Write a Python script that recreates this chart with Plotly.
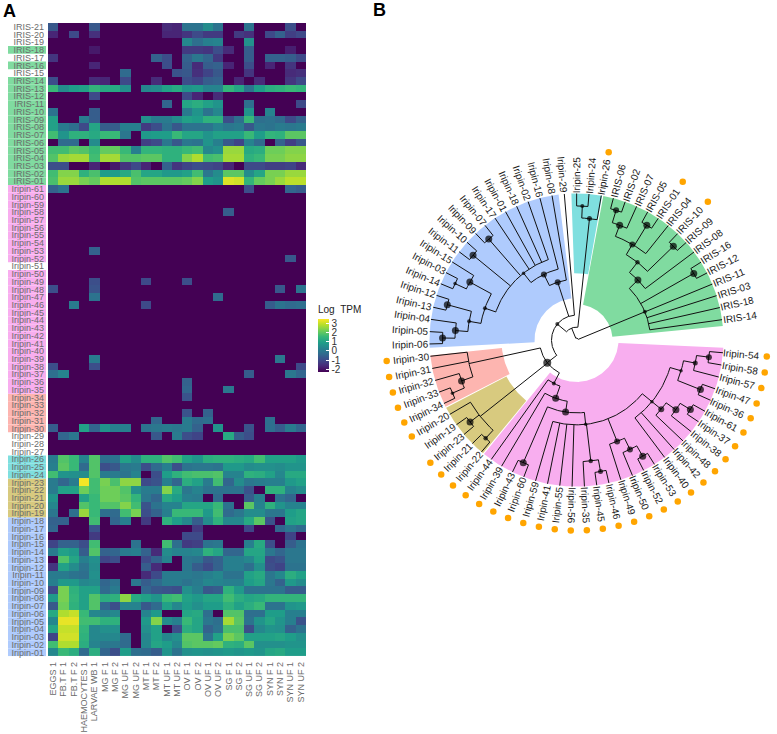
import numpy as np
import plotly.graph_objects as go

D = -2.3  # darkest cell

SAMPLES = ["EGGS 1","FB.T F 1","FB.T F 2","HAEMOCYTES 1","LARVAE WB 1","MG F 1","MG F 2","MG UF 1","MG UF 2",
           "MT F 1","MT F 2","MT UF 1","MT UF 2","OV F 1","OV F 2","OV UF 1","OV UF 2","SG F 1","SG F 2",
           "SG UF 1","SG UF 2","SYN F 1","SYN F 2","SYN UF 1","SYN UF 2"]

IRIS_21 = [-.7,D,D,D,-.7,D,D,D,D,D,D,-1.6,-1.7,-.1,-.1,.5,-.1,D,D,-.1,D,D,D,-.9,D]
IRIS_20 = [-1.7,D,-1.0,D,-1.5,D,D,D,D,D,D,-1.7,-1.7,-1.4,-1.0,-1.3,-1.3,D,-1.3,-1.5,D,-1.0,-.5,-1.2,-1.0]
IRIS_19 = [D,D,D,D,D,D,D,D,D,D,D,D,D,.4,-.2,.2,.3,D,D,.6,D,D,D,D,D]
IRIS_18 = [D,D,D,D,-1.9,D,D,D,D,D,D,D,D,-1.3,-1.3,-1.4,-.9,-1.6,D,-.6,D,D,D,-1.8,D]
IRIS_17 = [-1.4,D,D,D,D,D,D,D,D,D,-.5,-.9,D,-.5,0,-.4,-1.3,D,D,-.6,D,-.5,-.5,-.6,-1.0]
IRIS_16 = [D,D,D,D,-1.7,D,D,D,D,D,D,-.9,D,-.6,-1.6,-.6,-.5,-1.7,D,-.9,D,-1.7,D,-1.4,D]
IRIS_15 = [D,D,D,D,D,D,D,-.3,D,D,D,D,-.8,-.7,-1.5,-1.1,-.7,D,D,-1.4,D,D,D,-1.6,-1.5]
IRIS_14 = [-.9,D,D,D,-1.6,-1.7,D,-1.0,D,D,-1.6,D,D,-.9,-1.1,-.6,-.5,D,-1.7,D,-1.6,D,D,-1.4,-1.0]
IRIS_13 = [1.6,.5,.9,1.0,1.5,1.2,1.2,.6,D,.4,.5,1.0,1.2,.7,.8,.3,.3,1.5,1.1,-.1,.9,1.3,1.4,1.6,1.5]
IRIS_12 = [D,D,D,D,-1.0,D,D,D,D,D,D,D,D,-1.0,-1.7,D,-1.6,D,D,D,D,D,D,D,D]
IRIS_11 = [D,D,D,D,D,D,D,D,D,D,D,-.4,D,1.1,1.3,1.0,.7,D,D,-.2,D,D,D,D,-1.0]
IRIS_10 = [-.1,D,D,D,-.6,D,D,D,D,D,D,D,D,.1,.7,-.1,.4,D,D,.7,D,.3,D,D,D]
IRIS_09 = [1.0,D,D,.1,-.6,D,D,D,D,.6,.1,.1,.5,1.0,.9,1.4,1.4,-.9,-.2,1.6,-.2,-.1,-.3,-1.0,-.5]
IRIS_08 = [1.0,.1,-.2,-1.0,1.1,-.6,-.6,.2,.2,-1.3,-.9,-.1,-.7,-.1,-.1,-.1,.3,0,.1,-.7,0,-.1,.1,0,.1]
IRIS_07 = [1.7,.7,1.4,1.4,1.2,1.6,1.6,0,D,.8,.9,.9,1.6,1.1,1.1,.7,1.0,1.0,1.0,1.6,.9,1.5,1.4,2.0,2.0]
IRIS_06 = [D,-.3,-.3,D,.5,D,D,D,D,-1.2,-1.0,0,-.7,0,-.1,.7,.2,-.7,-1.1,.3,-.3,D,-.5,-1.2,-.7]
IRIS_05 = [1.7,1.7,2.0,1.9,1.6,2.1,2.1,1.6,.2,1.5,1.5,1.4,1.4,1.6,1.7,.4,.6,2.6,2.6,1.2,1.3,2.2,2.2,2.4,2.4]
IRIS_04 = [1.9,2.6,2.7,2.7,1.7,2.7,2.7,1.9,1.9,2.0,2.0,1.4,1.4,2.4,2.8,1.7,1.8,2.7,2.7,1.4,1.6,2.3,2.3,2.5,2.5]
IRIS_03 = [-.9,-.9,D,D,-1.7,D,-1.9,-1.4,-1.0,-1.7,D,-.5,-1.4,-1.1,-.9,-1.0,-1.1,-1.7,D,-1.0,-1.0,-1.2,-1.2,-1.1,-1.6]
IRIS_02 = [1.7,2.4,2.4,1.4,1.8,.9,.9,1.2,1.8,1.1,1.1,.8,.8,1.0,1.7,0,.5,2.0,2.0,.5,1.1,2.3,2.3,2.6,2.6]
IRIS_01 = [1.8,2.6,2.6,2.3,2.1,2.8,2.8,2.8,1.9,2.0,2.0,2.0,2.0,2.1,2.4,.9,.7,3.2,3.1,1.5,2.1,2.3,2.6,2.9,2.9]
IRIPIN_61 = [-.5,-.1,D,D,D,D,D,D,D,D,D,D,D,D,D,D,D,D,D,-.9,D,D,D,-.4,-.6]
IRIPIN_60 = [D,D,D,D,D,D,D,D,D,D,D,D,D,D,D,D,D,D,D,D,D,D,D,D,D]
IRIPIN_59 = [D,D,D,D,D,D,D,D,D,D,D,D,D,D,D,D,D,D,D,D,D,D,D,D,D]
IRIPIN_58 = [D,D,D,D,D,D,D,D,D,D,D,D,D,D,D,D,D,-.6,D,D,D,D,D,D,D]
IRIPIN_57 = [D,D,D,D,D,D,D,D,D,D,D,D,D,D,D,D,D,D,D,D,D,D,D,D,D]
IRIPIN_56 = [D,D,D,D,D,D,D,D,D,D,D,D,D,D,D,D,D,D,D,D,D,D,D,D,D]
IRIPIN_55 = [D,D,D,D,D,D,D,D,D,D,D,D,D,D,D,D,D,D,D,D,D,D,D,D,D]
IRIPIN_54 = [D,D,D,D,D,D,D,D,D,D,D,D,D,D,D,D,D,D,D,D,D,D,D,D,D]
IRIPIN_53 = [D,D,D,D,-.5,D,D,D,D,D,D,D,D,D,D,D,D,D,D,D,D,D,D,D,D]
IRIPIN_52 = [D,D,D,D,D,D,D,D,D,D,D,D,D,D,D,D,D,D,D,D,D,D,D,-.7,D]
IRIPIN_51 = [D,D,D,D,D,D,D,D,D,D,D,D,D,D,D,D,D,D,D,D,D,D,D,D,D]
IRIPIN_50 = [D,D,D,D,D,D,D,D,D,D,D,D,D,D,D,D,D,D,D,D,D,D,D,D,D]
IRIPIN_49 = [D,D,D,D,-.9,D,D,D,D,-1.0,D,D,D,-.9,D,D,D,D,D,D,D,D,D,D,D]
IRIPIN_48 = [-.9,D,D,D,-.8,D,D,D,D,D,D,D,D,D,D,D,D,D,D,D,D,D,-.7,D,-.1]
IRIPIN_47 = [D,D,D,D,-.1,D,D,D,D,D,D,D,D,D,D,D,-.3,D,D,D,D,D,D,D,D]
IRIPIN_46 = [D,D,.1,D,D,D,D,D,D,-1.0,D,D,D,D,D,D,D,D,D,D,D,-.6,-.1,-.3,-.2]
IRIPIN_45 = [D,D,D,D,D,D,D,D,D,D,D,D,D,D,D,D,D,D,D,D,D,D,D,D,D]
IRIPIN_44 = [D,D,D,D,D,D,D,D,D,D,D,D,D,D,D,D,D,D,D,D,D,D,D,D,D]
IRIPIN_43 = [D,D,D,D,D,D,D,D,D,D,D,D,D,D,D,D,D,D,D,D,D,D,D,D,D]
IRIPIN_42 = [D,D,D,D,D,D,D,D,D,D,D,D,D,D,D,D,D,D,D,D,D,D,D,D,D]
IRIPIN_41 = [D,D,D,D,D,D,D,D,D,D,D,D,D,D,D,D,D,D,D,D,D,D,D,D,D]
IRIPIN_40 = [D,D,D,D,D,D,D,D,D,D,D,D,D,D,D,D,D,D,D,D,D,D,D,D,D]
IRIPIN_39 = [D,D,D,D,.1,D,D,D,D,D,D,D,D,D,D,D,D,D,D,D,D,D,0,D,D]
IRIPIN_38 = [-.9,D,D,D,-.9,D,D,D,D,D,D,D,D,D,D,D,D,D,D,D,D,D,D,D,-1.0]
IRIPIN_37 = [-.2,.3,D,D,D,D,D,D,D,D,D,D,D,D,D,D,D,D,D,-.6,D,D,D,0,-.4]
IRIPIN_36 = [D,D,D,D,D,D,D,D,D,D,D,D,D,-.5,D,D,D,D,D,D,D,D,D,D,D]
IRIPIN_35 = [D,D,D,D,D,D,D,D,D,D,D,D,D,-.4,D,D,D,0,D,D,D,D,D,D,D]
IRIPIN_34 = [D,D,D,D,D,D,D,D,D,D,D,D,D,-.8,D,D,D,D,D,D,D,D,D,D,D]
IRIPIN_33 = [D,D,D,D,D,D,D,D,D,D,D,D,D,D,D,D,D,D,D,D,D,D,D,D,D]
IRIPIN_32 = [D,D,D,D,D,D,D,D,D,D,D,D,D,-.8,D,-.5,D,D,D,D,D,D,D,D,D]
IRIPIN_31 = [D,D,D,D,D,D,D,D,D,D,-.4,D,D,.1,-.3,-.2,D,D,D,D,D,-.2,D,D,D]
IRIPIN_30 = [-.6,D,D,1.0,-.4,.7,.2,.2,D,-.1,0,.1,0,.1,-.5,D,.7,D,D,-.8,D,-.2,-.6,.1,-.4]
IRIPIN_29 = [D,-.4,0,D,D,D,D,D,D,D,-.7,D,.1,-.9,-1.1,D,D,1.2,-.6,-.9,D,D,D,D,D]
IRIPIN_28 = [D,D,D,D,D,D,D,D,D,D,D,D,D,D,D,D,D,D,D,D,D,D,D,D,D]
IRIPIN_27 = [D,D,D,D,D,D,D,D,D,D,D,D,D,D,D,D,D,D,D,D,D,D,D,D,D]
IRIPIN_26 = [.1,1.9,1.6,.3,1.9,-.2,-.1,1.0,.5,1.4,1.4,1.9,1.7,1.0,.7,1.3,1.4,1.4,1.3,1.2,1.7,1.0,1.0,1.0,.8]
IRIPIN_25 = [.2,2.0,1.6,-.3,1.9,-.9,-.7,0,.1,-.9,-.3,.2,-.9,-.1,0,0,-.1,.8,.8,.5,.6,.6,.5,.7,.7]
IRIPIN_24 = [1.7,.7,.6,.5,1.9,.1,.1,-.1,.3,D,-.9,.9,1.4,1.7,1.8,1.8,1.9,.3,.3,1.4,1.3,1.0,.4,1.2,1.2]
IRIPIN_23 = [.1,-.4,.1,3.4,1.7,2.3,1.8,2.5,2.5,-1.0,-.8,.2,-.4,1.3,1.0,.1,1.7,-.4,.5,0,.1,.2,.2,.8,1.0]
IRIPIN_22 = [.1,1.0,1.0,2.2,1.7,2.2,2.2,1.9,.6,.1,.1,2.4,1.2,0,.3,-.1,-.1,-.1,-.1,-.8,D,1.4,1.4,.3,.5]
IRIPIN_21 = [.7,D,D,1.0,1.6,2.2,2.2,2.0,1.5,0,-.4,1.2,.9,.2,.1,D,-.3,D,D,-.6,.2,D,-.1,-.4,D]
IRIPIN_20 = [.4,D,D,1.9,1.6,1.9,1.9,2.4,1.7,-.8,-.1,.3,.3,1.1,1.1,1.1,1.6,-.1,D,2.0,.3,1.4,.7,.3,.3]
IRIPIN_19 = [0,D,-.2,2.6,1.6,-.2,-.3,1.7,2.3,-.9,-.5,.2,1.6,1.6,1.6,.8,1.7,-.3,0,.5,.5,0,0,.9,1.1]
IRIPIN_18 = [-.5,-.5,D,D,1.7,D,-.4,.2,D,-1.3,D,1.4,.9,.4,-.6,.5,1.4,.4,.4,1.2,2.0,-.8,D,1.0,1.1]
IRIPIN_17 = [-.4,D,D,D,-.8,D,D,D,D,D,D,D,D,D,-1.3,D,D,D,D,-1.1,D,D,-.4,0,-.3]
IRIPIN_16 = [D,D,D,D,-1.3,D,D,D,D,D,D,D,D,-1.0,-1.0,D,D,D,D,D,D,D,D,-1.1,D]
IRIPIN_15 = [-1.1,-.5,-.5,-.9,1.7,D,D,D,-.1,D,D,1.7,-.2,-1.3,-1.2,-.1,0,D,D,.2,1.2,-.9,D,-.6,-.1]
IRIPIN_14 = [.1,1.0,.8,-.6,1.9,-.5,-.4,.1,.2,-.5,-1.6,.5,.3,.3,.4,1.4,1.1,-.4,-.4,1.1,1.1,0,-.4,0,0]
IRIPIN_13 = [D,1.9,1.1,.2,.6,-1.1,-.9,D,D,-1.0,-.5,.3,D,0,-.1,-.7,-.5,.2,.2,.4,1.0,-1.0,-.8,0,0]
IRIPIN_12 = [-1.4,1.0,.5,-.1,.5,D,D,D,D,-.6,-1.6,D,D,0,-.6,-1.0,-.5,.2,.2,-.2,.6,-.9,-1.1,-.1,-.1]
IRIPIN_11 = [.1,.1,-.1,-.2,.6,D,D,D,D,-1.6,-1.0,.1,.1,.1,0,.2,.4,-.1,-.1,1.0,1.2,0,.4,1.3,1.0]
IRIPIN_10 = [.2,.8,.8,.4,.5,-.4,-.1,D,0,-.6,-.3,.1,.1,-.1,.1,.4,.3,.2,.2,.9,1.1,0,-.5,.8,.5]
IRIPIN_09 = [-1.0,2.3,1.4,1.0,1.0,-.3,.1,D,D,-.4,-.7,-.8,-.9,.6,.2,-.7,-.6,1.4,.8,-.1,-.1,-.1,-.1,-.6,-.6]
IRIPIN_08 = [.8,2.3,1.5,1.0,1.9,1.3,1.4,2.5,1.2,1.0,.7,1.6,1.7,1.0,.8,1.1,1.1,1.7,1.3,1.1,1.2,1.5,1.5,1.5,1.5]
IRIPIN_07 = [-.7,2.2,1.4,1.0,1.9,-.4,-.9,.3,.3,-.7,-.3,1.0,.4,.9,.6,.9,.9,1.4,1.0,1.3,1.6,-.1,-.1,.7,.8]
IRIPIN_06 = [1.2,2.8,3.0,1.6,.4,.2,.4,D,D,.3,.8,D,D,1.1,1.2,-.2,D,1.9,1.9,-.2,-.2,.9,.9,.2,.2]
IRIPIN_05 = [.4,3.3,3.3,1.7,1.7,1.4,1.4,D,D,.8,2.4,.5,.2,1.6,1.1,0,-.2,2.7,2.0,-.1,.7,1.1,.7,.2,-.8]
IRIPIN_04 = [1.1,3.0,3.0,1.5,.4,.6,.6,D,D,.6,1.0,D,-.9,1.3,1.1,-.5,-.1,1.8,1.8,-.9,.4,.7,.6,-.5,-.1]
IRIPIN_03 = [-1.1,3.1,3.1,1.4,.4,.4,.4,-.3,D,.4,1.0,.4,.6,2.0,2.0,-.1,1.0,2.3,2.0,1.0,1.0,1.0,1.1,.9,.6]
IRIPIN_02 = [1.7,2.8,2.8,1.3,.3,0,0,-.3,D,.4,1.1,.9,.4,1.9,2.0,2.0,2.1,1.4,1.3,2.0,.6,.6,.6,.7,.7]
IRIPIN_01 = [.4,1.6,1.3,-.3,1.3,-.4,-.9,.9,-.2,-.3,-.6,.7,-.1,.6,.7,.6,.7,.8,.7,.8,.7,1.1,1.2,.9,.9]

# row labels, bottom to top
ROW_LABELS = [f"Iripin-{i:02d}" for i in range(1, 62)] + [f"IRIS-{i:02d}" for i in range(1, 22)]
Z_ROWS = [globals()[n.replace("-", "_").upper()] for n in ROW_LABELS]

BLUE_ROWS = [f"Iripin-{i:02d}" for i in range(1, 19)]
OLIVE_ROWS = [f"Iripin-{i:02d}" for i in range(19, 24)]
CYAN_ROWS = [f"Iripin-{i:02d}" for i in range(24, 27)]
SALMON_ROWS = [f"Iripin-{i:02d}" for i in range(30, 35)]
PINK_ROWS = [f"Iripin-{i:02d}" for i in list(range(35, 51)) + list(range(52, 62))]
GREEN_ROWS = [f"IRIS-{i:02d}" for i in list(range(1, 15)) + [16, 18]]

BLUE, OLIVE, CYAN, SALMON, PINK, GREEN = "#afcbfd", "#d8ca7f", "#7fdfdf", "#fdb5b0", "#f8aeef", "#80dba0"
ROW_BANDS = [(BLUE_ROWS, BLUE), (OLIVE_ROWS, OLIVE), (CYAN_ROWS, CYAN), (SALMON_ROWS, SALMON),
             (PINK_ROWS, PINK), (GREEN_ROWS, GREEN)]

# tree: leaves counter-clockwise from IRIS-14
LEAVES = ["IRIS-14","IRIS-18","IRIS-03","IRIS-11","IRIS-12","IRIS-16","IRIS-08","IRIS-09","IRIS-10","IRIS-04",
          "IRIS-01","IRIS-05","IRIS-07","IRIS-02","IRIS-06","Iripin-26","Iripin-24","Iripin-25","Iripin-29",
          "Iripin-08","Iripin-16","Iripin-02","Iripin-18","Iripin-01","Iripin-17","Iripin-07","Iripin-09","Iripin-10",
          "Iripin-11","Iripin-15","Iripin-03","Iripin-14","Iripin-12","Iripin-13","Iripin-04","Iripin-05","Iripin-06",
          "Iripin-30","Iripin-31","Iripin-32","Iripin-33","Iripin-34","Iripin-20","Iripin-19","Iripin-23","Iripin-21",
          "Iripin-22","Iripin-44","Iripin-39","Iripin-43","Iripin-60","Iripin-59","Iripin-41","Iripin-55","Iripin-56",
          "Iripin-35","Iripin-45","Iripin-46","Iripin-49","Iripin-50","Iripin-52","Iripin-53","Iripin-40","Iripin-42",
          "Iripin-48","Iripin-38","Iripin-37","Iripin-61","Iripin-36","Iripin-47","Iripin-57","Iripin-58","Iripin-54"]
NO_DOT = ["Iripin-19"]
ORANGE_IRIS = ["Iripin-26", "IRIS-01", "IRIS-10"]
ORANGE_FROM = "Iripin-30"

# node name, radius, children, support-dot size (children first)
NODES = [
 ("g1",136,["IRIS-06","IRIS-02"],6),("g2",123,["g1","IRIS-07"],7),("g3",135,["IRIS-05","IRIS-01"],7),
 ("g4",111,["g2","g3","IRIS-04"],6),("g5",135,["IRIS-10","IRIS-09"],7),("g6",99,["g4","g5"],4.5),
 ("g7",86,["g6","IRIS-08"],7),("g8",135,["IRIS-16","IRIS-12"],7),
 ("g9",74,["g7","g8","IRIS-11","IRIS-03","IRIS-18","IRIS-14"],4),
 ("c1",134.5,["Iripin-24","Iripin-25"],4),("c2",122.5,["c1","Iripin-26"],5),
 ("b1",134,["Iripin-07","Iripin-09"],7),("b2",134,["Iripin-10","Iripin-11"],7),
 ("b3",134,["Iripin-03","Iripin-14"],3.5),("b4",121.5,["Iripin-15","b3"],7),
 ("b5",134,["Iripin-12","Iripin-13"],7),("b6",134,["Iripin-05","Iripin-06"],7),
 ("b7",121.5,["Iripin-04","b6"],7),("b8",109,["b5","b7"],4),("b9",97,["b4","b8"],4),
 ("b10",85.5,["Iripin-02","Iripin-18","Iripin-01","Iripin-17","b1","b2","b9"],3.5),
 ("b11",73.5,["Iripin-16","b10"],6),("b12",61,["Iripin-08","b11"],6),
 ("s1",135,["Iripin-33","Iripin-34"],3.5),("s2",122,["Iripin-32","s1"],7),
 ("s3",110,["Iripin-30","Iripin-31","s2"],0),
 ("o1",134.5,["Iripin-19","Iripin-23"],7),("o2",134,["Iripin-21","Iripin-22"],4.5),
 ("o3",123,["Iripin-20","o1","o2"],0),
 ("p1",134,["Iripin-43","Iripin-60"],7),("p2",134,["Iripin-45","Iripin-46"],5),
 ("p3",122,["Iripin-35","p2"],4.5),("p4",134,["Iripin-52","Iripin-53"],7),
 ("p5",122,["Iripin-50","p4"],6),("p6",109.5,["Iripin-49","p5"],6),
 ("p7",133.5,["Iripin-37","Iripin-61"],7),("p8",121.5,["Iripin-38","p7"],7),("p9",109.5,["Iripin-48","p8"],6),
 ("p10",133.5,["Iripin-36","Iripin-47"],7),("p11",133.5,["Iripin-58","Iripin-54"],6),
 ("p12",121,["Iripin-57","p11"],5),("p13",109,["p10","p12"],3.5),
 ("p14",97.5,["Iripin-40","Iripin-42","p9","p13"],3.5),
 ("p15",85,["Iripin-59","Iripin-41","Iripin-55","Iripin-56","p3","p6","p14"],3.5),
 ("p16",73,["p1","p15"],7),("p17",62,["Iripin-39","p16"],7),("p18",49,["Iripin-44","p17"],4),
 ("r1",37,["s3","o3","p18"],8),("r2",25,["Iripin-29","b12","r1"],4),
 ("r3",13,["c2","r2"],0),("root",2,["g9","r3"],0),
]

# wedges: colour, start angle, end angle, inner radius, outer radius
WEDGE_COLORS = [GREEN, CYAN, BLUE, SALMON, OLIVE, PINK]
WEDGE_START = [5.5, 80, 97, 186, 207.5, 231]
WEDGE_END = [80, 92.5, 183, 207, 231, 357.5]
WEDGE_INNER = [36, 67, 42, 75, 79, 42]
WEDGE_OUTER = [147, 147, 147, 147, 147, 147]

CX, CY = 576.5, 340.0
THETA0, THETA_STEP = 8.0, 4.82
R_TIP, R_LABEL, R_ORANGE = 147.0, 148.0, 191.0


def px(r, t):
    return CX + r * np.cos(np.radians(t)), CY - r * np.sin(np.radians(t))


fig = go.Figure()

# ---------- heatmap ----------
fig.add_trace(go.Heatmap(
    z=Z_ROWS, x=SAMPLES, y=ROW_LABELS, zmin=-2.3, zmax=3.5, colorscale="Viridis", hoverongaps=False,
    colorbar=dict(thickness=11, thicknessmode="pixels", len=69, lenmode="pixels", x=318/777, xanchor="left", xpad=0,
                  y=1-372/734, yanchor="bottom", ypad=0, outlinewidth=0,
                  tickvals=[-2,-1,0,1,2,3], ticktext=["-2","-1","0","1","2","3"], ticks="inside", ticklen=3,
                  tickcolor="white", tickwidth=1, tickfont=dict(size=10, color="#333333", family="Liberation Sans"),
                  title=dict(text="Log\u00a0\u00a0TPM", side="top", font=dict(size=10, color="#222222", family="Liberation Sans"))),
))

shapes = []
for rows, col in ROW_BANDS:
    for name in rows:
        i = ROW_LABELS.index(name)
        shapes.append(dict(type="rect", xref="paper", yref="y", x0=8/777, x1=46/777, y0=i-0.5, y1=i+0.5,
                           fillcolor=col, line_width=0, layer="below"))

# ---------- tree ----------
for col, a, b, ri, ro in zip(WEDGE_COLORS, WEDGE_START, WEDGE_END, WEDGE_INNER, WEDGE_OUTER):
    t = np.arange(a, b + 0.5, 1.0)
    xo, yo = px(ro, t)
    xi, yi = px(ri, t[::-1])
    fig.add_trace(go.Scatter(x=np.r_[xo, xi, xo[0]], y=np.r_[yo, yi, yo[0]], mode="lines", fill="toself",
                             fillcolor=col, line=dict(width=0, color=col), xaxis="x2", yaxis="y2",
                             hoverinfo="skip", showlegend=False))

theta = {n: THETA0 + i * THETA_STEP for i, n in enumerate(LEAVES)}
radius = {n: R_TIP for n in LEAVES}
for name, r, kids, _ in NODES:
    theta[name] = float(np.mean([theta[k] for k in kids]))
    radius[name] = r

lx, ly = [], []
for name, r, kids, _ in NODES:
    ts = [theta[k] for k in kids]
    arc = np.linspace(min(ts), max(ts), max(int(max(ts) - min(ts)), 2))
    ax, ay = px(r, arc)
    lx += list(ax) + [None]
    ly += list(ay) + [None]
    for k in kids:
        x0, y0 = px(r, theta[k])
        x1, y1 = px(radius[k], theta[k])
        lx += [x0, x1, None]
        ly += [y0, y1, None]
fig.add_trace(go.Scatter(x=lx, y=ly, mode="lines", line=dict(color="#111111", width=1), xaxis="x2", yaxis="y2",
                         hoverinfo="skip", showlegend=False))

dots = [n for n in NODES if n[3] > 0]
dx, dy = px(np.array([n[1] for n in dots]), np.array([theta[n[0]] for n in dots]))
fig.add_trace(go.Scatter(x=dx, y=dy, mode="markers", marker=dict(color="black", size=[n[3] for n in dots], line_width=0),
                         xaxis="x2", yaxis="y2", hoverinfo="skip", showlegend=False))

start = LEAVES.index(ORANGE_FROM)
orange = [n for i, n in enumerate(LEAVES) if (i >= start and n not in NO_DOT) or n in ORANGE_IRIS]
ox, oy = px(R_ORANGE, np.array([theta[n] for n in orange]))
fig.add_trace(go.Scatter(x=ox, y=oy, mode="markers", marker=dict(color="#ffa500", size=6.5, line_width=0),
                         xaxis="x2", yaxis="y2", hoverinfo="skip", showlegend=False))

annots = []
for n in LEAVES:
    t = theta[n]
    w = 36 if n.startswith("Iripin") else 33.5
    x, y = px(R_LABEL + w / 2, t)
    ang = 180 - t if 92 < t < 266 else -t
    annots.append(dict(text=n, x=x, y=y, xref="x2", yref="y2", showarrow=False, textangle=ang,
                       xanchor="center", yanchor="middle", font=dict(size=10, color="#1a1a1a", family="Liberation Sans")))
annots.append(dict(text="<b>A</b>", x=9/777, y=1-10/734, xref="paper", yref="paper", showarrow=False,
                   xanchor="center", yanchor="middle", font=dict(size=18, color="black", family="Liberation Sans")))
annots.append(dict(text="<b>B</b>", x=379/777, y=1-9/734, xref="paper", yref="paper", showarrow=False,
                   xanchor="center", yanchor="middle", font=dict(size=18, color="black", family="Liberation Sans")))

fig.update_layout(
    width=777, height=734, margin=dict(l=0, r=0, t=0, b=0), paper_bgcolor="white", plot_bgcolor="rgba(0,0,0,0)",
    font=dict(family="Liberation Sans"), shapes=shapes, annotations=annots,
    xaxis=dict(domain=[48/777, 306/777], type="category", tickangle=-90, ticks="", showgrid=False, zeroline=False,
               tickfont=dict(size=9, color="#6b6b6b"), ticklabelstandoff=3, anchor="y", tickmode="linear", dtick=1),
    yaxis=dict(domain=[1-657/734, 1-22/734], type="category", ticks="", showgrid=False, zeroline=False,
               tickfont=dict(size=9, color="#6b6b6b"), ticklabelstandoff=3, anchor="x", tickmode="linear", dtick=1,
               range=[-0.5, 81.5]),
    xaxis2=dict(domain=[0, 1], range=[0, 777], visible=False, anchor="y2", fixedrange=True),
    yaxis2=dict(domain=[0, 1], range=[734, 0], visible=False, anchor="x2", fixedrange=True),
)

fig.write_html("out.html", config={"displayModeBar": False},
               post_script="document.body.style.margin='0';document.documentElement.style.overflow='hidden';")
